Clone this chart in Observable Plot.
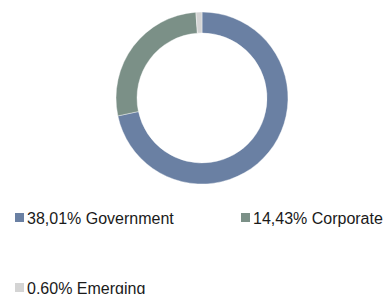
<!DOCTYPE html>
<html>
<head>
<meta charset="utf-8">
<script src="https://cdn.jsdelivr.net/npm/d3@7"></script>
<script src="https://cdn.jsdelivr.net/npm/@observablehq/plot@0.6"></script>
<style>
  html, body { margin: 0; padding: 0; background: #fff; }
  #wrap { position: relative; width: 384px; height: 294px; overflow: hidden; font-family: "Liberation Sans", Arial, sans-serif; }
  #chart { position: absolute; left: 0; top: 0; }
  .item { position: absolute; font-size: 16px; line-height: 16px; color: #1a1a1a; white-space: nowrap; }
  .sw { position: absolute; width: 9px; height: 9px; }
</style>
</head>
<body>
<div id="wrap">
  <div id="chart"></div>
  <div id="legend"></div>
</div>
<script>
const categories = ["Government", "Corporate", "Emerging"];
const values = [38.01, 14.43, 0.60];
const labels = ["38,01%", "14,43%", "0,60%"];
const colors = ["#6a80a3", "#7b9087", "#d4d4d4"];

const data = categories.map((c, i) => ({category: c, value: values[i]}));
const arcs = d3.pie().value(d => d.value).sort(null)(data);

const cx = 202, cy = 98, R = 86, innerFrac = 65 / 86;

const donut = (index, scales, vals, dims) => {
  const x0 = scales.x(0), y0 = scales.y(0);
  const rOut = scales.x(1) - scales.x(0);
  const arc = d3.arc().outerRadius(rOut).innerRadius(rOut * innerFrac);
  const g = d3.create("svg:g").attr("transform", `translate(${x0},${y0})`);
  g.selectAll("path").data(arcs).join("path")
    .attr("d", arc)
    .attr("fill", d => scales.color(d.data.category))
    .attr("stroke", "#fff")
    .attr("stroke-width", 0.4);
  return g.node();
};

const chart = Plot.plot({
  width: 384,
  height: 200,
  margin: 0,
  axis: null,
  x: {domain: [-1, 1], range: [cx - R, cx + R]},
  y: {domain: [-1, 1], range: [cy + R, cy - R]},
  color: {domain: categories, range: colors},
  marks: [
    Plot.dot(arcs, {x: () => 0, y: () => 0, fill: d => d.data.category, r: 0}),
    donut
  ]
});
document.getElementById("chart").appendChild(chart);

// legend
const pos = [{x: 15, y: 213}, {x: 241, y: 213}, {x: 15, y: 283}];
const leg = document.getElementById("legend");
categories.forEach((c, i) => {
  const sw = document.createElement("div");
  sw.className = "sw";
  sw.style.left = pos[i].x + "px";
  sw.style.top = pos[i].y + "px";
  sw.style.background = colors[i];
  leg.appendChild(sw);
  const t = document.createElement("div");
  t.className = "item";
  t.style.left = (pos[i].x + 12) + "px";
  t.style.top = (pos[i].y - 2.5) + "px";
  t.textContent = labels[i] + " " + c;
  leg.appendChild(t);
});
</script>
</body>
</html>
